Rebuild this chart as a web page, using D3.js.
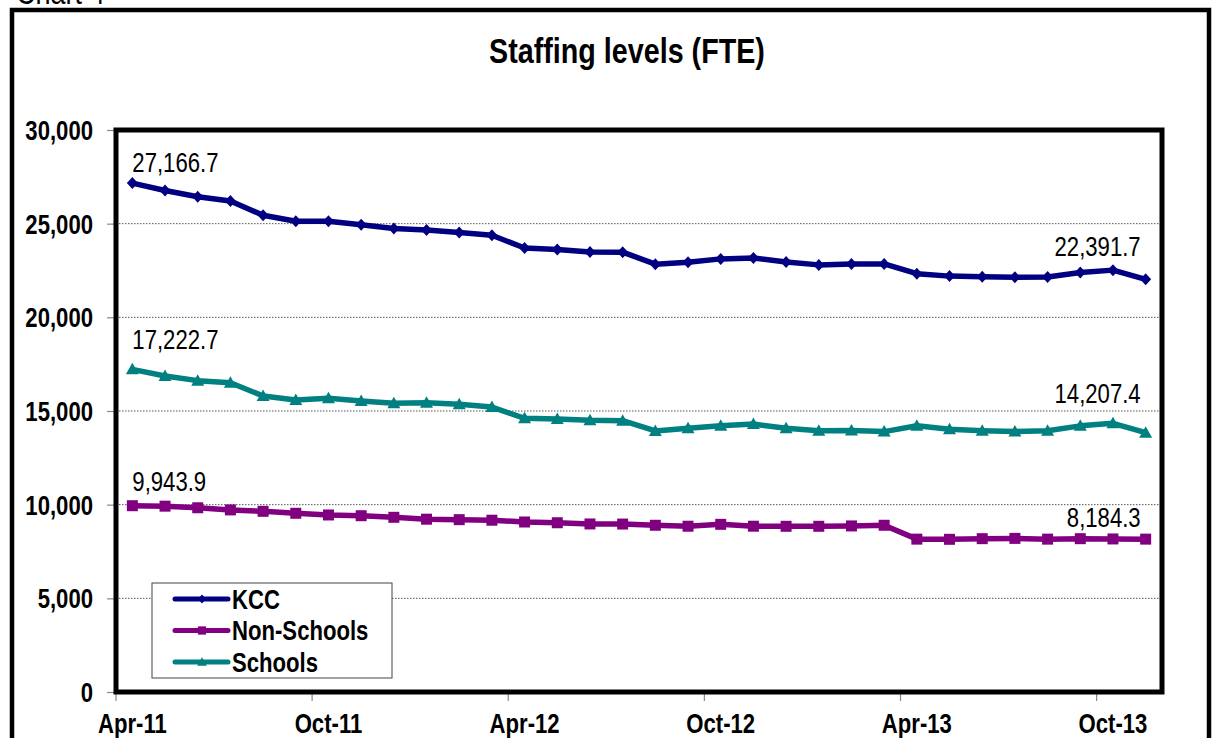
<!DOCTYPE html>
<html>
<head>
<meta charset="utf-8">
<script src="https://cdn.jsdelivr.net/npm/d3@7"></script>
<style>
  html, body { margin: 0; padding: 0; background: #fff; }
  svg { display: block; }
  text { font-family: "Liberation Sans", Arial, sans-serif; }
</style>
</head>
<body>
<svg id="chart" width="1213" height="738"></svg>
<script>
// Monthly staffing (FTE), April 2011 to November 2013
const months = [
  "Apr-11","May-11","Jun-11","Jul-11","Aug-11","Sep-11","Oct-11","Nov-11","Dec-11","Jan-12","Feb-12","Mar-12",
  "Apr-12","May-12","Jun-12","Jul-12","Aug-12","Sep-12","Oct-12","Nov-12","Dec-12","Jan-13","Feb-13","Mar-13",
  "Apr-13","May-13","Jun-13","Jul-13","Aug-13","Sep-13","Oct-13","Nov-13"
];
const tickMonths = ["Apr-11","Oct-11","Apr-12","Oct-12","Apr-13","Oct-13"];
const yTicks = [0, 5000, 10000, 15000, 20000, 25000, 30000];

const kcc = [27166.7, 26770, 26440, 26215, 25445, 25130, 25130, 24945, 24745, 24665, 24530, 24380,
             23700, 23620, 23490, 23480, 22840, 22940, 23120, 23170, 22950, 22800, 22850, 22850,
             22330, 22200, 22160, 22140, 22150, 22391.7, 22520, 22030];
const nonSchools = [9943.9, 9920, 9835, 9720, 9645, 9540, 9450, 9410, 9325, 9225, 9200, 9170,
                    9075, 9035, 8970, 8965, 8900, 8850, 8950, 8850, 8845, 8845, 8865, 8900,
                    8160, 8150, 8185, 8200, 8160, 8184.3, 8170, 8160];
const schools = [17222.7, 16870, 16620, 16510, 15800, 15590, 15680, 15535, 15410, 15445, 15355, 15210,
                 14610, 14575, 14505, 14485, 13935, 14075, 14215, 14305, 14075, 13950, 13965, 13900,
                 14210, 14025, 13950, 13900, 13950, 14207.4, 14345, 13845];

const seriesNames = ["KCC", "Non-Schools", "Schools"];
// first and labelled closing month for each series
const labelledMonths = ["Apr-11", "Sep-13"];

// ---- styling ----
const NARROW = 0.82; // horizontal squeeze giving a condensed face
const colors = { "KCC": "#000080", "Non-Schools": "#800080", "Schools": "#008080" };
const shapes = {
  "KCC": "M0,-6L5.5,0L0,6L-5.5,0Z",
  "Non-Schools": "M-5.5,-5.5H5.5V5.5H-5.5Z",
  "Schools": "M0,-6.5L6.5,5L-6.5,5Z"
};
// vertical offsets of the start / end value labels from their points
const labelDy = {
  "KCC": [-11, -17],
  "Non-Schools": [-15, -12],
  "Schools": [-20, -23]
};

const svg = d3.select("#chart");
const plot = { left: 116, top: 130, right: 1162, bottom: 692 };

const x = d3.scaleBand().domain(months).range([plot.left, plot.right]).padding(0);
const y = d3.scaleLinear().domain([0, 30000]).range([plot.bottom, plot.top]);
const cx = m => x(m) + x.bandwidth() / 2;

// condensed text placed with its anchor at (px, py)
function ntext(parent, px, py, str, size, weight, anchor) {
  return parent.append("text")
    .attr("transform", `translate(${px},${py}) scale(${NARROW},1)`)
    .attr("font-size", size)
    .attr("font-weight", weight || "normal")
    .attr("text-anchor", anchor || "start")
    .attr("fill", "#000")
    .text(str);
}

// outer chart frame
svg.append("rect")
  .attr("x", 12).attr("y", 10).attr("width", 1197).attr("height", 760)
  .attr("fill", "#fff").attr("stroke", "#000").attr("stroke-width", 4.5);

ntext(svg, 16, 4, "Chart 4", 33, "normal");

// title
ntext(svg, 627, 63, "Staffing levels (FTE)", 35, "bold", "middle");

// gridlines
svg.append("g")
  .selectAll("line")
  .data(yTicks.filter(v => v > 0 && v < 30000))
  .join("line")
  .attr("x1", plot.left).attr("x2", plot.right)
  .attr("y1", d => y(d)).attr("y2", d => y(d))
  .attr("stroke", "#555").attr("stroke-width", 1).attr("stroke-dasharray", "1.5,1.5");

// y axis
const yAxis = svg.append("g")
  .attr("transform", `translate(${plot.left},0)`)
  .call(d3.axisLeft(y).tickValues(yTicks).tickFormat(d3.format(",")).tickSize(9).tickPadding(14));
yAxis.select(".domain").remove();
yAxis.selectAll(".tick line").attr("stroke", "#888").attr("stroke-width", 1.2);
yAxis.selectAll(".tick text")
  .attr("x", 0).attr("dy", "0.35em")
  .attr("transform", `translate(-23,0) scale(${NARROW},1)`)
  .attr("font-size", 27).attr("font-weight", "bold").attr("fill", "#000")
  .attr("font-family", "Liberation Sans, Arial, sans-serif");

// x axis: tick marks at the start of each labelled month, labels centred on the month
const xAxis = svg.append("g")
  .attr("transform", `translate(0,${plot.bottom})`)
  .call(d3.axisBottom(x).tickValues(tickMonths).tickSize(0));
xAxis.select(".domain").remove();
xAxis.selectAll(".tick text")
  .attr("y", 0).attr("dy", 0)
  .attr("transform", `translate(0,41) scale(${NARROW},1)`)
  .attr("font-size", 27).attr("font-weight", "bold").attr("fill", "#000")
  .attr("font-family", "Liberation Sans, Arial, sans-serif");
svg.append("g")
  .selectAll("line")
  .data(tickMonths)
  .join("line")
  .attr("x1", d => x(d)).attr("x2", d => x(d))
  .attr("y1", plot.bottom).attr("y2", plot.bottom + 9)
  .attr("stroke", "#888").attr("stroke-width", 1.2);

// series
const seriesData = { "KCC": kcc, "Non-Schools": nonSchools, "Schools": schools };
const line = d3.line().x(d => cx(d.m)).y(d => y(d.v));
const fmt = d3.format(",.1f");

seriesNames.forEach(name => {
  const pts = months.map((m, i) => ({ m, v: seriesData[name][i] }));
  svg.append("path")
    .datum(pts)
    .attr("d", line)
    .attr("fill", "none")
    .attr("stroke", colors[name])
    .attr("stroke-width", 5.5)
    .attr("stroke-linejoin", "round");
  svg.append("g")
    .selectAll("path")
    .data(pts)
    .join("path")
    .attr("transform", d => `translate(${cx(d.m)},${y(d.v)})`)
    .attr("d", shapes[name])
    .attr("fill", colors[name]);

  // value labels
  const i0 = months.indexOf(labelledMonths[0]);
  const i1 = months.indexOf(labelledMonths[1]);
  ntext(svg, cx(months[i0]), y(seriesData[name][i0]) + labelDy[name][0],
        fmt(seriesData[name][i0]), 27, "normal", "start");
  ntext(svg, cx(months[months.length - 1]) - 5, y(seriesData[name][i1]) + labelDy[name][1],
        fmt(seriesData[name][i1]), 27, "normal", "end");
});

// plot frame
svg.append("rect")
  .attr("x", plot.left).attr("y", plot.top)
  .attr("width", plot.right - plot.left).attr("height", plot.bottom - plot.top)
  .attr("fill", "none").attr("stroke", "#000").attr("stroke-width", 5);

// legend
const legend = svg.append("g").attr("transform", "translate(152,583)");
legend.append("rect")
  .attr("width", 240).attr("height", 95)
  .attr("fill", "#fff").attr("stroke", "#444").attr("stroke-width", 1);
seriesNames.forEach((name, i) => {
  const ly = 16 + i * 31.5;
  legend.append("line")
    .attr("x1", 23).attr("x2", 76).attr("y1", ly).attr("y2", ly)
    .attr("stroke", colors[name]).attr("stroke-width", 5).attr("stroke-linecap", "round");
  legend.append("path")
    .attr("d", shapes[name]).attr("fill", colors[name])
    .attr("transform", `translate(50,${ly}) scale(0.75)`);
  ntext(legend, 80, ly + 9.5, name, 27, "bold", "start");
});
</script>
</body>
</html>
